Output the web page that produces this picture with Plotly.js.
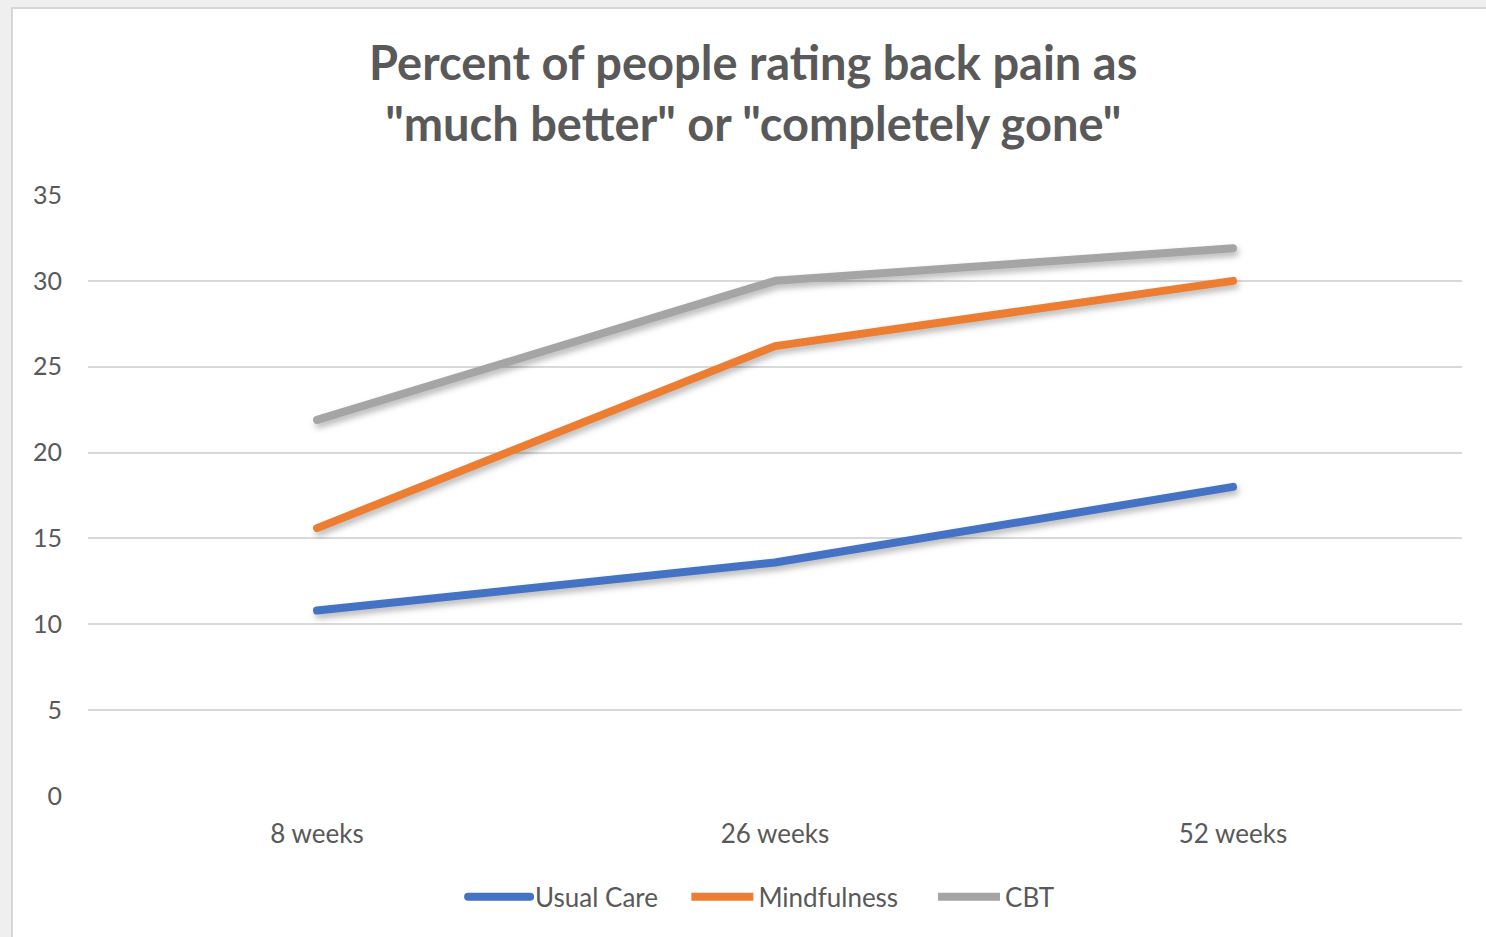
<!DOCTYPE html>
<html>
<head>
<meta charset="utf-8">
<script src="https://cdn.plot.ly/plotly-3.0.1.min.js"></script>
<style>
  html, body { margin: 0; padding: 0; background: #efefef; width: 1486px; height: 937px; overflow: hidden; }
  #frame { position: absolute; left: 11px; top: 7px; width: 1475px; height: 930px; background: #fff; border-left: 2px solid #d6d6d6; border-top: 2px solid #d6d6d6; box-sizing: border-box; }
  #chart { position: absolute; left: 1px; top: 1px; width: 1474px; height: 929px; }
  .scatterlayer path.js-line { stroke-linecap: round; stroke-linejoin: round; filter: drop-shadow(2px 4px 3px rgba(0,0,0,0.28)); }
  .legend path.js-line { stroke-linecap: round; }
</style>
</head>
<body>
<div id="frame"><div id="chart"></div></div>
<script>
const categories = ["8 weeks", "26 weeks", "52 weeks"];
const usualCare = [10.8, 13.6, 18.0];
const mindfulness = [15.6, 26.2, 30.0];
const cbt = [21.9, 30.0, 31.9];
const seriesNames = ["Usual Care", "Mindfulness", "CBT"];
const yTicks = [0, 5, 10, 15, 20, 25, 30, 35];

const colors = ["#4472C4", "#ED7D31", "#A5A5A5"];
const values = [usualCare, mindfulness, cbt];
const legendIds = ["legend", "legend2", "legend3"];
const legendX = [0.2730, 0.4355, 0.6150];

const traces = values.map((v, i) => ({
  type: "scatter",
  mode: "lines",
  x: categories,
  y: v,
  name: seriesNames[i],
  legend: legendIds[i],
  line: { color: colors[i], width: 8 },
  hoverinfo: "skip"
}));

function legendCfg(x) {
  return {
    orientation: "h",
    x: x, xanchor: "left",
    y: -0.168, yanchor: "middle",
    font: { size: 26, color: "#595959" },
    itemwidth: 62,
    borderwidth: 0,
    bgcolor: "rgba(0,0,0,0)"
  };
}

const layout = {
  width: 1474,
  height: 929,
  paper_bgcolor: "#ffffff",
  plot_bgcolor: "#ffffff",
  margin: { l: 74, r: 26, t: 185, b: 143 },
  font: { family: "Lato, 'Open Sans', sans-serif", color: "#595959" },
  title: {
    text: "Percent of people rating back pain as<br>\"much better\" or \"completely gone\"",
    font: { family: "Lato, 'Open Sans', sans-serif", size: 47, color: "#595959", weight: "bold" },
    x: 0.5015, xref: "container", xanchor: "center",
    y: 0.925, yref: "container", yanchor: "top"
  },
  xaxis: {
    type: "category",
    range: [-0.5, 2.5],
    showgrid: false,
    zeroline: false,
    showline: false,
    ticks: "",
    ticklabelstandoff: 20,
    tickfont: { size: 26, color: "#595959" }
  },
  yaxis: {
    range: [0, 35],
    tickvals: yTicks,
    showgrid: true,
    gridcolor: "#d9d9d9",
    gridwidth: 2,
    zeroline: false,
    showline: false,
    ticks: "",
    ticklabelstandoff: 25,
    tickfont: { size: 25, color: "#595959" }
  },
  showlegend: true,
  legend: legendCfg(legendX[0]),
  legend2: legendCfg(legendX[1]),
  legend3: legendCfg(legendX[2])
};

Plotly.newPlot("chart", traces, layout, { displayModeBar: false, staticPlot: true });
</script>
</body>
</html>
